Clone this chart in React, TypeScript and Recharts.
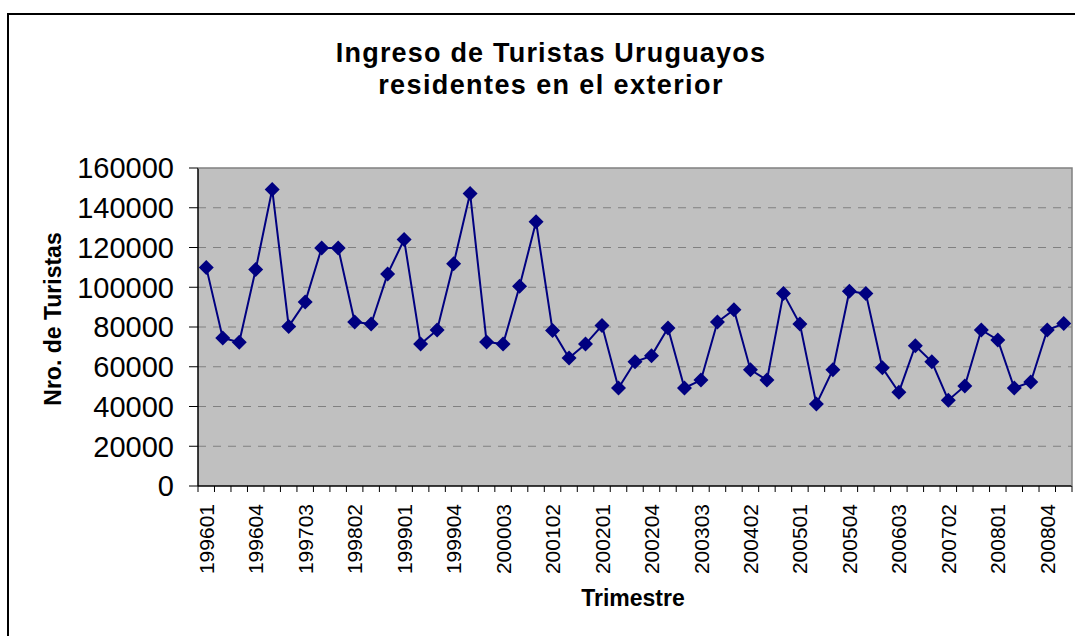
import { LineChart, Line, XAxis, YAxis, CartesianGrid } from 'recharts';

const quarters = [
  '199601', '199602', '199603', '199604',
  '199701', '199702', '199703', '199704',
  '199801', '199802', '199803', '199804',
  '199901', '199902', '199903', '199904',
  '200001', '200002', '200003', '200004',
  '200101', '200102', '200103', '200104',
  '200201', '200202', '200203', '200204',
  '200301', '200302', '200303', '200304',
  '200401', '200402', '200403', '200404',
  '200501', '200502', '200503', '200504',
  '200601', '200602', '200603', '200604',
  '200701', '200702', '200703', '200704',
  '200801', '200802', '200803', '200804',
  '200901',
];

const turistas = [
  110000, 74500, 72300, 108900,
  149200, 80300, 92600, 119800,
  119800, 82500, 81500, 106700,
  124000, 71400, 78500, 111800,
  147200, 72500, 71400, 100500,
  133000, 78300, 64400, 71400,
  80700, 49300, 62500, 65500,
  79500, 49300, 53300, 82500,
  88700, 58500, 53300, 96800,
  81500, 41200, 58500, 98000,
  96800, 59500, 47200, 70600,
  62500, 43200, 50300, 78500,
  73500, 49300, 52300, 78500,
  81700,
];

const yTicks = [0, 20000, 40000, 60000, 80000, 100000, 120000, 140000, 160000];
const gridTicks = [20000, 40000, 60000, 80000, 100000, 120000, 140000];

const data = quarters.map((q, i) => ({ q, value: turistas[i] }));

const FONT = '"Liberation Sans", Arial, sans-serif';
const WIDTH = 1075;
const HEIGHT = 636;
const PLOT_LEFT = 198;
const PLOT_RIGHT = 1072;
const PLOT_TOP = 168;
const PLOT_BOTTOM = 486;
const HALF = (PLOT_RIGHT - PLOT_LEFT) / quarters.length / 2;
const NAVY = '#000080';

const Diamond = (props: any) => {
  const { cx, cy, index } = props;
  if (cx == null || cy == null) return null;
  const r = 7.5;
  return (
    <path
      key={`d-${index}`}
      d={`M${cx} ${cy - r}L${cx + r} ${cy}L${cx} ${cy + r}L${cx - r} ${cy}Z`}
      fill={NAVY}
    />
  );
};

const XTick = (props: any) => {
  const { x, y, payload, index } = props;
  const last = index === quarters.length - 1;
  return (
    <g>
      <line x1={x - HALF} x2={x - HALF} y1={y} y2={y + 6} stroke="#000" strokeWidth={1} />
      {last && <line x1={x + HALF} x2={x + HALF} y1={y} y2={y + 6} stroke="#000" strokeWidth={1} />}
      {index % 3 === 0 && (
        <text
          x={x}
          y={y + 18}
          dy="0.36em"
          textAnchor="end"
          transform={`rotate(-90 ${x} ${y + 18})`}
          fontFamily={FONT}
          fontSize={21}
          fill="#000"
        >
          {payload.value}
        </text>
      )}
    </g>
  );
};

export default function App() {
  return (
    <div
      style={{
        position: 'absolute',
        left: 0,
        top: 0,
        width: WIDTH,
        height: HEIGHT,
        overflow: 'hidden',
        background: '#fff',
      }}
    >
      <div
        style={{
          position: 'absolute',
          left: 7,
          top: 13,
          width: 1100,
          height: 700,
          border: '2px solid #000',
        }}
      />
      <div style={{ position: 'absolute', left: 0, top: 0 }}>
        <LineChart
          width={WIDTH}
          height={HEIGHT}
          data={data}
          margin={{ top: PLOT_TOP, right: WIDTH - PLOT_RIGHT, bottom: 0, left: 0 }}
        >
          <CartesianGrid
            vertical={false}
            stroke="#808080"
            strokeDasharray="8 7"
            fill="#C0C0C0"
            fillOpacity={1}
            syncWithTicks={false}
            horizontalValues={gridTicks}
          />
          <XAxis
            dataKey="q"
            scale="point"
            padding={{ left: HALF, right: HALF }}
            interval={0}
            height={HEIGHT - PLOT_BOTTOM}
            tickSize={0}
            tickMargin={0}
            tickLine={false}
            axisLine={{ stroke: '#000', strokeWidth: 1.5 }}
            tick={<XTick />}
          />
          <YAxis
            width={PLOT_LEFT}
            domain={[0, 160000]}
            ticks={yTicks}
            interval={0}
            tickSize={9}
            tickMargin={15}
            axisLine={{ stroke: '#000', strokeWidth: 1.5 }}
            tickLine={{ stroke: '#000' }}
            tick={{ fontFamily: FONT, fontSize: 29, fill: '#000' }}
          />
          <Line
            type="linear"
            dataKey="value"
            stroke={NAVY}
            strokeWidth={2}
            dot={<Diamond />}
            activeDot={false}
            isAnimationActive={false}
          />
        </LineChart>
      </div>
      <svg
        width={WIDTH}
        height={HEIGHT}
        style={{ position: 'absolute', left: 0, top: 0, pointerEvents: 'none' }}
      >
        <polyline
          points={`${PLOT_LEFT},${PLOT_TOP} ${PLOT_RIGHT},${PLOT_TOP} ${PLOT_RIGHT},${PLOT_BOTTOM}`}
          fill="none"
          stroke="#808080"
          strokeWidth={1.5}
        />
        <g fontFamily={FONT} fontWeight="bold" fill="#000">
          <text x={551} y={62} fontSize={27} letterSpacing={1.2} textAnchor="middle">
            Ingreso de Turistas Uruguayos
          </text>
          <text x={551} y={94} fontSize={27} letterSpacing={1.4} textAnchor="middle">
            residentes en el exterior
          </text>
          <text
            x={61}
            y={319}
            fontSize={23}
            textAnchor="middle"
            transform="rotate(-90 61 319)"
          >
            Nro. de Turistas
          </text>
          <text x={633} y={606} fontSize={23} textAnchor="middle">
            Trimestre
          </text>
        </g>
      </svg>
    </div>
  );
}
